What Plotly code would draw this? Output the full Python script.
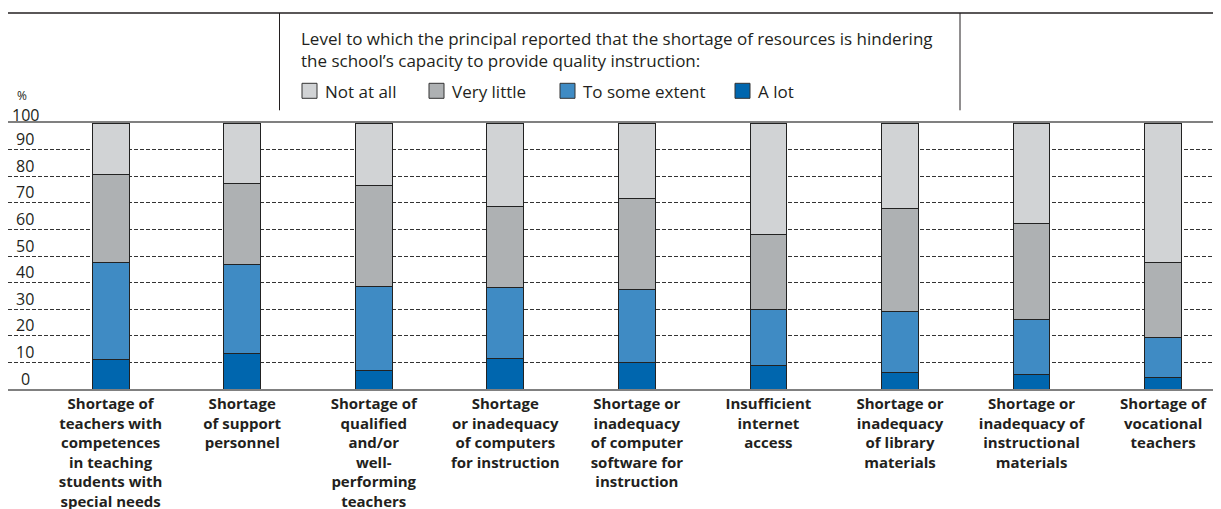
import plotly.graph_objects as go

categories = [
    '<b>Shortage of<br>teachers with<br>competences<br>in teaching<br>students with<br>special needs</b>',
    '<b>Shortage<br>of support<br>personnel</b>',
    '<b>Shortage of<br>qualified<br>and/or<br>well-<br>performing<br>teachers</b>',
    '<b>Shortage<br>or inadequacy<br>of computers<br>for instruction</b>',
    '<b>Shortage or<br>inadequacy<br>of computer<br>software for<br>instruction</b>',
    '<b>Insufficient<br>internet<br>access</b>',
    '<b>Shortage or<br>inadequacy<br>of library<br>materials</b>',
    '<b>Shortage or<br>inadequacy of<br>instructional<br>materials</b>',
    '<b>Shortage of<br>vocational<br>teachers</b>',
]

a_lot = [11.2, 13.3, 6.9, 11.3, 9.9, 8.9, 6.2, 5.4, 4.3]
to_some_extent = [36.5, 33.5, 31.5, 26.8, 27.6, 20.9, 23.1, 20.8, 15.0]
very_little = [32.9, 30.4, 38.1, 30.5, 34.2, 28.1, 38.6, 36.0, 28.2]
not_at_all = [19.4, 22.8, 23.5, 31.4, 28.3, 42.1, 32.1, 37.8, 52.5]

y_ticks = [0, 10, 20, 30, 40, 50, 60, 70, 80, 90, 100]

SERIES = [
    ('A lot', a_lot, '#0066ae'),
    ('To some extent', to_some_extent, '#3f8bc4'),
    ('Very little', very_little, '#aeb1b3'),
    ('Not at all', not_at_all, '#d1d3d5'),
]

FONT = 'Open Sans'
# the page body has an 8px margin, so the figure is drawn 8px in from the window corner
OFF = 8
W, H = 1221 - OFF, 509 - OFF
PLOT_TOP, PLOT_BOTTOM = 122.7, 388.7   # window pixels of y=100 and y=0
T = PLOT_TOP - OFF
B = H - (PLOT_BOTTOM - OFF)


def px_x(x):
    # window pixel -> paper x
    return (x - OFF) / W


def px_y(y):
    # window pixel -> paper y
    return (PLOT_BOTTOM - y) / (PLOT_BOTTOM - PLOT_TOP)


fig = go.Figure()
for name, vals, col in SERIES:
    fig.add_trace(go.Bar(x=categories, y=vals, name=name, width=0.28,
                         marker=dict(color=col, line=dict(color='#222222', width=1)),
                         showlegend=False))

fig.update_layout(
    width=W, height=H, barmode='stack',
    margin=dict(l=0, r=0, t=T, b=B, autoexpand=False),
    plot_bgcolor='white', paper_bgcolor='white',
    font=dict(family=FONT, color='#231f20', size=15),
)
fig.update_xaxes(range=[-0.78, 8.44], showline=True, mirror=True, linecolor='#808080', linewidth=2,
                 ticks='', tickfont=dict(size=15, color='#231f20'), tickangle=0)
fig.update_yaxes(range=[0, 100], dtick=10, showgrid=True, gridcolor='#333333', gridwidth=1,
                 griddash='4px,2px', showticklabels=False, zeroline=False)

# y labels sit above their gridlines
for v in y_ticks:
    fig.add_annotation(x=px_x(25), xref='paper', y=v, yref='y', text=str(v), showarrow=False,
                       xanchor='center', yanchor='middle', yshift=8 if v == 100 else 10.5,
                       font=dict(size=16))
fig.add_annotation(x=px_x(22), xref='paper', y=px_y(95), yref='paper', text='%', showarrow=False,
                   xanchor='center', yanchor='middle', font=dict(size=12))

# legend frame
shapes = [
    dict(type='line', xref='paper', yref='paper', x0=0, x1=1, y0=px_y(12.7), y1=px_y(12.7),
         line=dict(color='#231f20', width=1.5)),
    dict(type='line', xref='paper', yref='paper', x0=px_x(279.5), x1=px_x(279.5), y0=px_y(12.7), y1=px_y(110),
         line=dict(color='#231f20', width=1)),
    dict(type='line', xref='paper', yref='paper', x0=px_x(960), x1=px_x(960), y0=px_y(12.7), y1=px_y(110),
         line=dict(color='#231f20', width=1)),
]
fig.add_annotation(x=px_x(299), xref='paper', y=px_y(38), yref='paper', showarrow=False,
                   xanchor='left', yanchor='middle', font=dict(size=17),
                   text='Level to which the principal reported that the shortage of resources is hindering')
fig.add_annotation(x=px_x(299), xref='paper', y=px_y(60), yref='paper', showarrow=False,
                   xanchor='left', yanchor='middle', font=dict(size=17),
                   text='the school\u2019s capacity to provide quality instruction:')

legend_pos = {'Not at all': 302, 'Very little': 429, 'To some extent': 560, 'A lot': 735}
for name, vals, col in SERIES:
    x0 = legend_pos[name]
    shapes.append(dict(type='rect', xref='paper', yref='paper', x0=px_x(x0), x1=px_x(x0 + 15),
                       y0=px_y(98), y1=px_y(83), fillcolor=col, line=dict(color='#333333', width=1)))
    fig.add_annotation(x=px_x(x0 + 21), xref='paper', y=px_y(91), yref='paper', text=name,
                       showarrow=False, xanchor='left', yanchor='middle', font=dict(size=17))

fig.update_layout(shapes=shapes)
fig.write_html('out.html')
